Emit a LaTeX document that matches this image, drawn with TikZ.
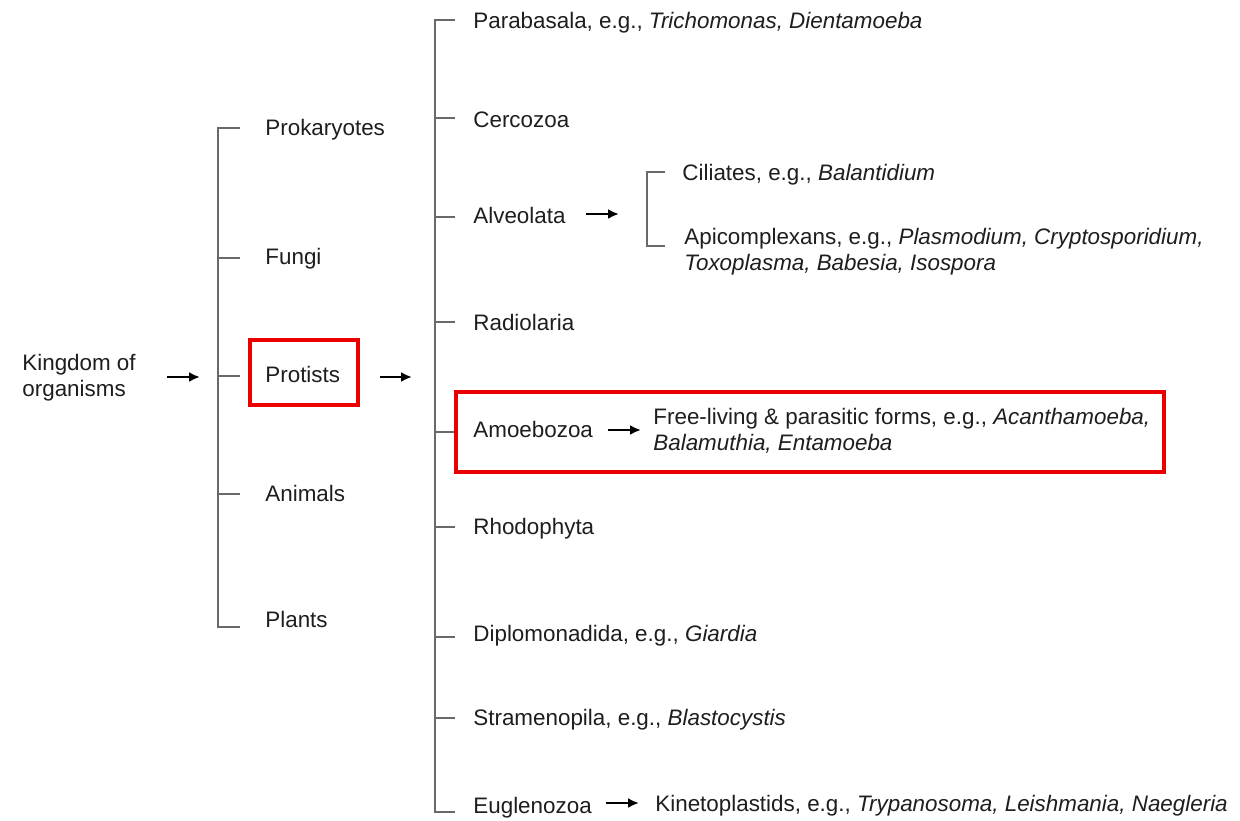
\documentclass[tikz,border=0pt]{standalone}
\usepackage{fontspec}
\setmainfont{Liberation Sans}
\usetikzlibrary{arrows.meta}
\definecolor{brkgray}{RGB}{105,105,105}
\definecolor{txt}{RGB}{30,30,30}
\definecolor{boxred}{RGB}{235,0,0}
\begin{document}
\begin{tikzpicture}[x=0.5pt,y=-0.5pt,
  lbl/.style={anchor=base west,inner sep=0pt,text=txt,font=\fontsize{11.2}{13}\selectfont},
  brk/.style={draw=brkgray,line width=1pt},
  arr/.style={draw=black,line width=1.1pt,-{Latex[length=5.5pt,width=5pt]}},
  hl/.style={draw=boxred,line width=1.6pt}]
\useasboundingbox[fill=white] (0,0) rectangle (1240,820);

% ---- level 0
\node[lbl] (king1) at (22,370) {Kingdom of};
\node[lbl] (king2) at (22,396) {organisms};
\coordinate (a1s) at (167,377);
\coordinate (a1e) at (200,377);
\draw[arr] (a1s) -- (a1e);

% ---- level 1 bracket
\coordinate (b1t) at (218,128);
\coordinate (b1b) at (218,627);
\foreach \n/\y in {pro/128,fun/258,prt/376,ani/494,pla/627}{
  \coordinate (b1\n) at (218,\y);
  \coordinate (t1\n) at (240,\y);
}
\draw[brk] (t1pro) -- (b1t) -- (b1b) -- (t1pla);
\foreach \n in {fun,prt,ani}{\draw[brk] (b1\n) -- (t1\n);}

\node[lbl] (prok) at (265,135) {Prokaryotes};
\node[lbl] (fungi) at (265,264) {Fungi};
\node[lbl] (protists) at (265,382) {Protists};
\node[lbl] (animals) at (265,501) {Animals};
\node[lbl] (plants) at (265,627) {Plants};
\coordinate (pb1) at (250,340);
\coordinate (pb2) at (358,405);
\draw[hl] (pb1) rectangle (pb2);

\coordinate (a2s) at (380,377);
\coordinate (a2e) at (412,377);
\draw[arr] (a2s) -- (a2e);

% ---- level 2 bracket
\coordinate (b2t) at (435,20);
\coordinate (b2b) at (435,812);
\foreach \n/\y in {par/20,cer/118,alv/217,rad/322,amo/432,rho/527,dip/637,str/718,eug/812}{
  \coordinate (b2\n) at (435,\y);
  \coordinate (t2\n) at (455,\y);
}
\draw[brk] (t2par) -- (b2t) -- (b2b) -- (t2eug);
\foreach \n in {cer,alv,rad,amo,rho,dip,str}{\draw[brk] (b2\n) -- (t2\n);}

\node[lbl] (para) at (473,28) {Parabasala, e.g., \textit{Trichomonas, Dientamoeba}};
\node[lbl] (cerc) at (473,127) {Cercozoa};
\node[lbl] (alve) at (473,223) {Alveolata};
\node[lbl] (radi) at (473,330) {Radiolaria};
\node[lbl] (amoe) at (473,437) {Amoebozoa};
\node[lbl] (rhod) at (473,534) {Rhodophyta};
\node[lbl] (dipl) at (473,641) {Diplomonadida, e.g., \textit{Giardia}};
\node[lbl] (stra) at (473,725) {Stramenopila, e.g., \textit{Blastocystis}};
\node[lbl] (eugl) at (473,813) {Euglenozoa};

% ---- Alveolata sub-bracket
\coordinate (a3s) at (586,214);
\coordinate (a3e) at (619,214);
\draw[arr] (a3s) -- (a3e);
\coordinate (b3t) at (647,172);
\coordinate (b3b) at (647,246);
\coordinate (t3t) at (665,172);
\coordinate (t3b) at (665,246);
\draw[brk] (t3t) -- (b3t) -- (b3b) -- (t3b);
\node[lbl] (cili) at (682,180) {Ciliates, e.g., \textit{Balantidium}};
\node[lbl] (apic1) at (684,244) {Apicomplexans, e.g., \textit{Plasmodium, Cryptosporidium,}};
\node[lbl] (apic2) at (684,270) {\textit{Toxoplasma, Babesia, Isospora}};

% ---- Amoebozoa
\coordinate (a4s) at (608,430);
\coordinate (a4e) at (641,430);
\draw[arr] (a4s) -- (a4e);
\node[lbl] (free1) at (653,424) {Free-living \& parasitic forms, e.g., \textit{Acanthamoeba,}};
\node[lbl] (free2) at (653,450) {\textit{Balamuthia, Entamoeba}};
\coordinate (ab1) at (456,392);
\coordinate (ab2) at (1164,472);
\draw[hl] (ab1) rectangle (ab2);

% ---- Euglenozoa
\coordinate (a5s) at (606,803);
\coordinate (a5e) at (639,803);
\draw[arr] (a5s) -- (a5e);
\node[lbl] (kine) at (655,811) {Kinetoplastids, e.g., \textit{Trypanosoma, Leishmania, Naegleria}};
\end{tikzpicture}
\end{document}
